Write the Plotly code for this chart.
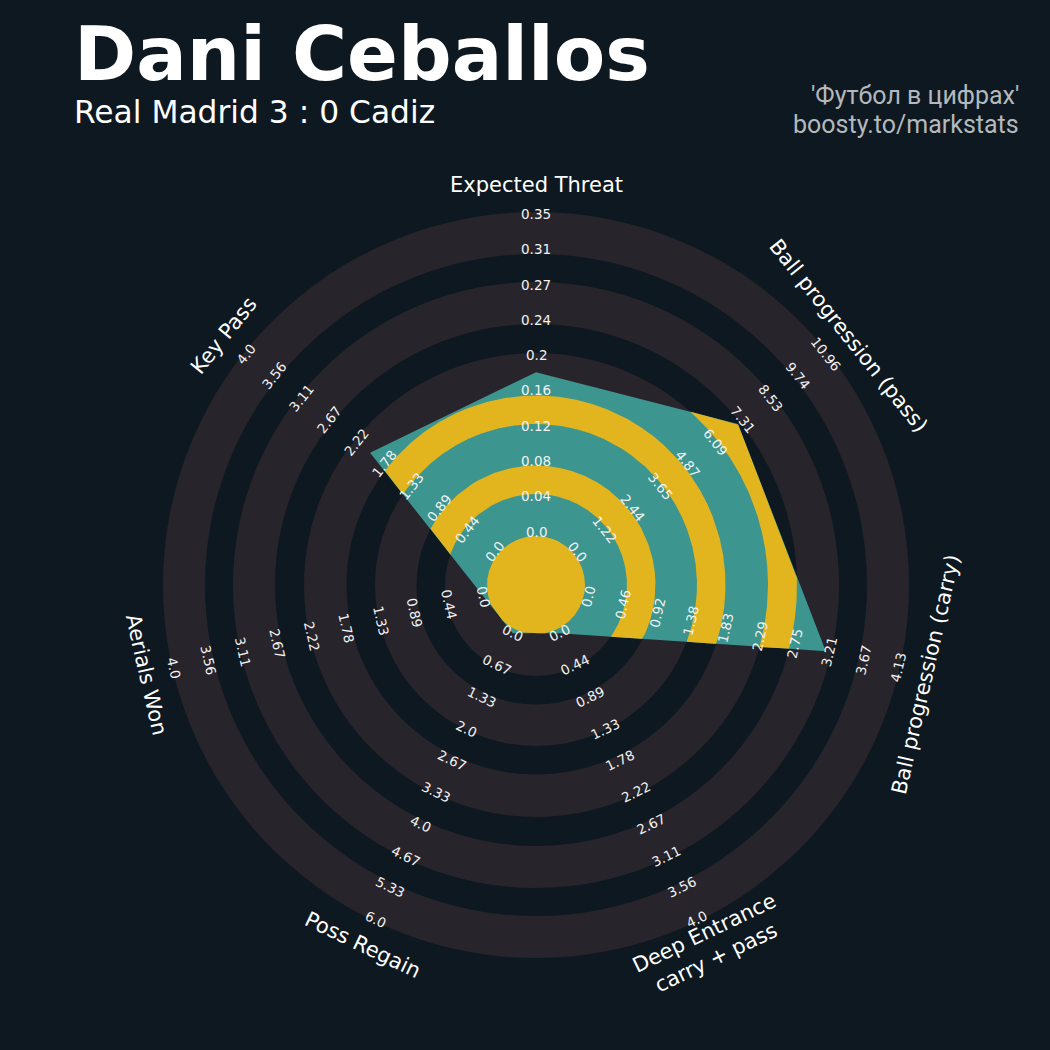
import numpy as np
import plotly.graph_objects as go

# ---------------- data ----------------
params = ["Expected Threat", "Ball progression (pass)", "Ball progression (carry)",
          "Deep Entrance<br>carry + pass", "Poss Regain", "Aerials Won", "Key Pass"]
values = [0.177, 7.07, 3.17, 0.0, 0.0, 0.0, 2.0]
low = [0, 0, 0, 0, 0, 0, 0]
high = [0.3527, 10.96, 4.13, 4.0, 6.0, 4.0, 4.0]
tick_labels = [
    ["0.0", "0.04", "0.08", "0.12", "0.16", "0.2", "0.24", "0.27", "0.31", "0.35"],
    ["0.0", "1.22", "2.44", "3.65", "4.87", "6.09", "7.31", "8.53", "9.74", "10.96"],
    ["0.0", "0.46", "0.92", "1.38", "1.83", "2.29", "2.75", "3.21", "3.67", "4.13"],
    ["0.0", "0.44", "0.89", "1.33", "1.78", "2.22", "2.67", "3.11", "3.56", "4.0"],
    ["0.0", "0.67", "1.33", "2.0", "2.67", "3.33", "4.0", "4.67", "5.33", "6.0"],
    ["0.0", "0.44", "0.89", "1.33", "1.78", "2.22", "2.67", "3.11", "3.56", "4.0"],
    ["0.0", "0.44", "0.89", "1.33", "1.78", "2.22", "2.67", "3.11", "3.56", "4.0"],
]
title = "Dani Ceballos"
subtitle = "Real Madrid 3 : 0 Cadiz"
credit = ["'Футбол в цифрах'", "boosty.to/markstats"]

# ---------------- style ----------------
BG = "#0e1820"
GREY = "#28242b"
TEAL = "#3d958f"
YELLOW = "#e2b51f"
CREDIT = "#b4b9be"
FONT = "DejaVu Sans"

R_LO, R_HI = 53.5, 371.0        # value scale radii
R_LABEL = 400.0                 # parameter label radius
CENTER_R = 49.0
GREY_BANDS = [(49, 91), (119.5, 161), (189.5, 232), (261, 303), (331, 373)]
INNER_BANDS = [(0, CENTER_R), (91, 119.5), (161, 189.5), (232, 261), (303, 331)]

n = len(params)
step = 360.0 / n
angles = np.array([90 - i * step for i in range(n)])


def to_r(v, lo, hi):
    return R_LO + (v - lo) / (hi - lo) * (R_HI - R_LO)


radii = np.array([to_r(v, lo, hi) for v, lo, hi in zip(values, low, high)])
vx = radii * np.cos(np.radians(angles))
vy = radii * np.sin(np.radians(angles))


def poly_r(phi_deg):
    """radius of the radar polygon along direction at offset phi (clockwise from top)."""
    phi = np.mod(phi_deg, 360.0)
    idx = np.minimum((phi // step).astype(int), n - 1)
    th = np.radians(90 - phi)
    dx, dy = np.cos(th), np.sin(th)
    px, py = vx[idx], vy[idx]
    qx, qy = vx[(idx + 1) % n], vy[(idx + 1) % n]
    ex, ey = qx - px, qy - py
    den = dx * ey - dy * ex
    return (px * qy - py * qx) / den


phis = np.unique(np.concatenate([np.linspace(0, 360, 3601)[:-1], np.arange(n) * step]))
rp = poly_r(phis)

fig = go.Figure()

# rings
shapes = []
for r1, r2 in GREY_BANDS[::-1]:
    shapes.append(dict(type="circle", xref="x", yref="y", x0=-r2, x1=r2, y0=-r2, y1=r2,
                       fillcolor=GREY, line=dict(width=0), layer="below"))
    shapes.append(dict(type="circle", xref="x", yref="y", x0=-r1, x1=r1, y0=-r1, y1=r1,
                       fillcolor=BG, line=dict(width=0), layer="below"))

# radar polygon
fig.add_trace(go.Scatter(x=np.append(vx, vx[0]), y=np.append(vy, vy[0]), mode="lines",
                         fill="toself", fillcolor=TEAL, line=dict(width=0, color=TEAL),
                         hoverinfo="skip"))


def band_path(r1, r2):
    inside = rp > r1 + 1e-9
    m = len(phis)
    if inside.all():
        ph = np.append(phis, 360.0)
        ro = np.clip(poly_r(ph), r1, r2)
        t = np.radians(90 - ph)
        xs = list(ro * np.cos(t))
        ys = list(ro * np.sin(t))
        if r1 > 0:
            xs += list((r1 * np.cos(t))[::-1])
            ys += list((r1 * np.sin(t))[::-1])
        return xs, ys
    # rotate so we start outside
    start = int(np.argmin(inside))
    order = np.roll(np.arange(m), -start)
    ph_all = np.mod(phis[order] - phis[start], 360.0) + phis[start]
    ins = inside[order]
    xs, ys = [], []
    i = 0
    while i < m:
        if ins[i]:
            j = i
            while j < m and ins[j]:
                j += 1
            lo_i = max(i - 1, 0)
            hi_i = min(j, m - 1)
            ph = ph_all[lo_i:hi_i + 1]
            ro = np.clip(poly_r(ph), r1, r2)
            t = np.radians(90 - ph)
            xs += list(ro * np.cos(t)) + list((r1 * np.cos(t))[::-1]) + [None]
            ys += list(ro * np.sin(t)) + list((r1 * np.sin(t))[::-1]) + [None]
            i = j
        else:
            i += 1
    return xs, ys


# alternate bands clipped to the polygon
for r1, r2 in INNER_BANDS:
    xs, ys = band_path(r1, r2)
    if xs:
        fig.add_trace(go.Scatter(x=xs, y=ys, mode="lines", fill="toself", fillcolor=YELLOW,
                                 line=dict(width=0, color=YELLOW), hoverinfo="skip",
                                 connectgaps=False))


def rot(a):
    r = a - 90
    while r <= -90:
        r += 180
    while r > 90:
        r -= 180
    return -r  # plotly: clockwise


annotations = []
for i in range(n):
    a = angles[i]
    ca, sa = np.cos(np.radians(a)), np.sin(np.radians(a))
    ta = rot(a)
    labs = tick_labels[i]
    for k, lab in enumerate(labs):
        r = R_LO + k * (R_HI - R_LO) / (len(labs) - 1)
        annotations.append(dict(x=r * ca, y=r * sa, xref="x", yref="y", text=lab,
                                showarrow=False, textangle=ta, xanchor="center", yanchor="middle",
                                font=dict(family=FONT, size=13.5, color="#f2f2f2")))
    annotations.append(dict(x=R_LABEL * ca, y=R_LABEL * sa, xref="x", yref="y", text=params[i],
                            showarrow=False, textangle=ta, xanchor="center", yanchor="middle",
                            align="center",
                            font=dict(family=FONT, size=21, color="#ffffff")))

W = 1050.0
annotations.append(dict(x=72 / W, y=1 - 54 / W, xref="paper", yref="paper", text="<b>%s</b>" % title,
                        showarrow=False, xanchor="left", yanchor="middle",
                        font=dict(family=FONT, size=75, color="#ffffff")))
annotations.append(dict(x=72 / W, y=1 - 112 / W, xref="paper", yref="paper", text=subtitle,
                        showarrow=False, xanchor="left", yanchor="middle",
                        font=dict(family=FONT, size=31.3, color="#ffffff")))
for j, (txt, cy) in enumerate(zip(credit, [96, 124])):
    annotations.append(dict(x=1021 / W, y=1 - cy / W, xref="paper", yref="paper", text=txt,
                            showarrow=False, xanchor="right", yanchor="middle",
                            font=dict(family="Roboto", size=25, color=CREDIT)))

fig.update_layout(
    width=1050, height=1050, autosize=False,
    margin=dict(l=0, r=0, t=0, b=0, pad=0),
    paper_bgcolor=BG, plot_bgcolor=BG,
    showlegend=False,
    xaxis=dict(range=[-536, 514], visible=False, fixedrange=True),
    yaxis=dict(range=[-465, 585], visible=False, fixedrange=True),
    shapes=shapes, annotations=annotations,
)

fig.write_html("out.html", config={"displayModeBar": False},
               post_script="document.body.style.margin='0';document.body.style.background='%s';" % BG)
